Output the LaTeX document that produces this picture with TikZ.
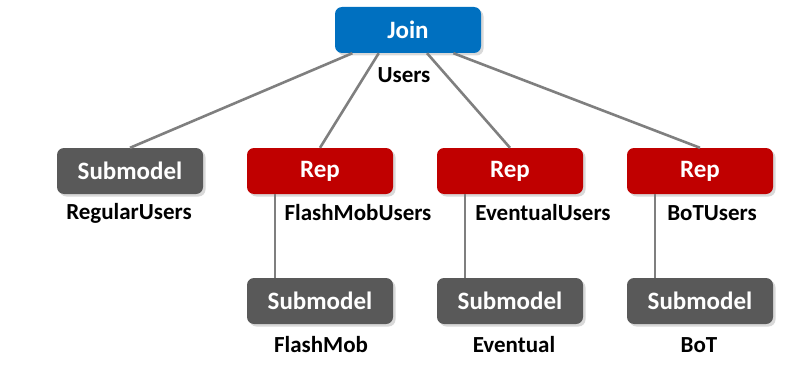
\documentclass[tikz,border=0pt]{standalone}
\usepackage{fontspec}
\setmainfont{Carlito}
\usetikzlibrary{shadows,calc}

\definecolor{joinblue}{HTML}{0070C0}
\definecolor{repred}{HTML}{C00000}
\definecolor{subgray}{HTML}{595959}
\definecolor{linkgray}{HTML}{7F7F7F}

\begin{document}
\begin{tikzpicture}[x=1pt,y=-1pt,
	box/.style={rounded corners=7pt, minimum width=146pt, minimum height=46pt, inner sep=0pt,
		text=white, font=\fontsize{25}{25}\selectfont\bfseries,
		drop shadow={shadow xshift=2.5pt, shadow yshift=-2.5pt, opacity=0.3}},
	joinbox/.style={box, fill=joinblue},
	repbox/.style={box, fill=repred},
	subbox/.style={box, fill=subgray},
	lbl/.style={font=\fontsize{23}{23}\selectfont\bfseries, text=black, inner sep=0pt},
	link/.style={draw=linkgray, line width=2.6pt}]
	\useasboundingbox (0,0) rectangle (808,369);
	% top
	\node[joinbox] (join) at (408,30) {Join};
	\node[lbl] (users) at (404,75) {Users};
	% second row
	\node[subbox] (regular) at (130,171) {Submodel};
	\node[repbox] (flashrep) at (320,171) {Rep};
	\node[repbox] (eventrep) at (510,171) {Rep};
	\node[repbox] (botrep) at (700,171) {Rep};
	\node[lbl] (regularlbl) at (129,213) {RegularUsers};
	\node[lbl] (flashreplbl) at (358,213) {FlashMobUsers};
	\node[lbl] (eventreplbl) at (543,213) {EventualUsers};
	\node[lbl] (botreplbl) at (712,213) {BoTUsers};
	% third row
	\node[subbox] (flashsub) at (320,301) {Submodel};
	\node[subbox] (eventsub) at (510,301) {Submodel};
	\node[subbox] (botsub) at (700,301) {Submodel};
	\node[lbl] (flashsublbl) at (321,345) {FlashMob};
	\node[lbl] (eventsublbl) at (514,345) {Eventual};
	\node[lbl] (botsublbl) at (699,345) {BoT};
	% links
	\draw[link] ($(join.south west)!0.12!(join.south east)$) -- (regular.north);
	\draw[link] ($(join.south west)!0.30!(join.south east)$) -- (flashrep.north);
	\draw[link] ($(join.south west)!0.63!(join.south east)$) -- (eventrep.north);
	\draw[link] ($(join.south west)!0.81!(join.south east)$) -- (botrep.north);
	\draw[link] ([xshift=28pt]flashrep.south west) -- ([xshift=28pt]flashsub.north west);
	\draw[link] ([xshift=28pt]eventrep.south west) -- ([xshift=28pt]eventsub.north west);
	\draw[link] ([xshift=28pt]botrep.south west) -- ([xshift=28pt]botsub.north west);
\end{tikzpicture}
\end{document}
